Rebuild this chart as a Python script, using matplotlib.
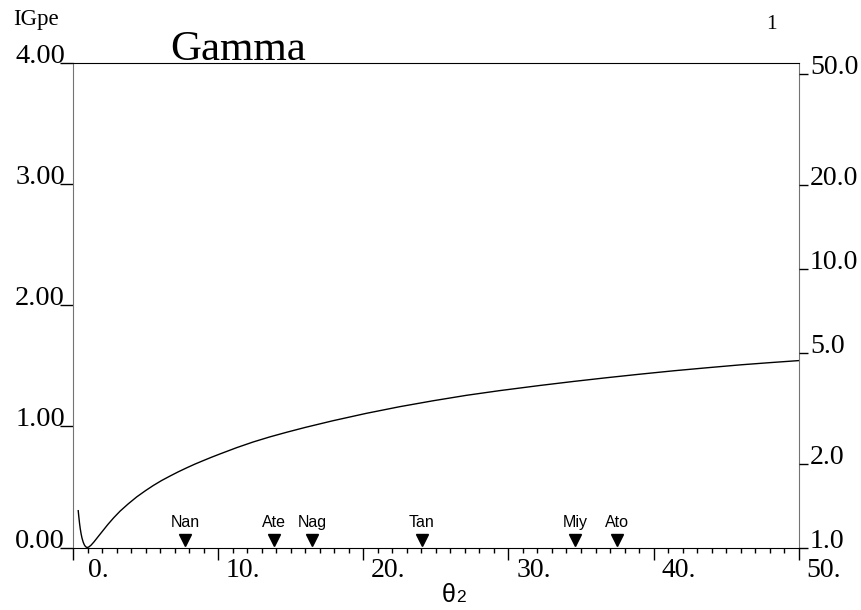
import matplotlib
matplotlib.use("Agg")
import matplotlib.pyplot as plt
from matplotlib.ticker import FixedLocator, MultipleLocator, NullLocator
from matplotlib.transforms import ScaledTranslation
import numpy as np

plt.rcParams["font.family"] = "Liberation Serif"

# curve (theta_2 vs IGpe)
theta = [0.36, 0.40, 0.45, 0.50, 0.56, 0.62, 0.70, 0.78, 0.86, 0.93, 1.0,
         1.1, 1.25, 1.45, 1.7, 2.0, 2.4, 2.8, 3.24, 3.8, 4.39, 5.0, 5.53,
         6.1, 6.68, 7.25, 7.83, 8.4, 8.98, 9.55, 10.13, 11.28, 12.42, 13.57,
         14.72, 16.0, 17.9, 20.2, 22.5, 24.8, 27.1, 29.4, 32.2, 34.5, 36.8,
         39.0, 41.4, 43.7, 46.0, 48.0, 50.0]
igpe = [0.304, 0.255, 0.20, 0.155, 0.112, 0.078, 0.045, 0.022, 0.008, 0.002,
        0.0, 0.005, 0.02, 0.047, 0.085, 0.13, 0.19, 0.245, 0.30, 0.36, 0.418,
        0.47, 0.512, 0.553, 0.59, 0.625, 0.658, 0.689, 0.718, 0.746, 0.773,
        0.825, 0.872, 0.914, 0.952, 0.992, 1.047, 1.108, 1.163, 1.212, 1.257,
        1.296, 1.339, 1.372, 1.403, 1.431, 1.46, 1.485, 1.509, 1.527, 1.544]

stations = ["Nan", "Ate", "Nag", "Tan", "Miy", "Ato"]
station_theta = [7.74, 13.87, 16.49, 24.02, 34.59, 37.46]

left_ticks = [0, 1, 2, 3, 4]
left_labels = ["0.00", "1.00", "2.00", "3.00", "4.00"]
right_ticks = [1, 2, 5, 10, 20, 50]
right_labels = ["1.0", "2.0", "5.0", "10.0", "20.0", "50.0"]
x_ticks = [0, 10, 20, 30, 40, 50]
x_labels = ["0.", "10.", "20.", "30.", "40.", "50."]

W, H = 861, 610
fig = plt.figure(figsize=(W / 100, H / 100), dpi=100)
ax = fig.add_axes([73 / W, 1 - 547.5 / H, (798.7 - 73) / W, (547.5 - 63.3) / H])

ax.plot(theta, igpe, color="black", lw=1.0)
ax.plot(station_theta, [0.062] * len(station_theta), "v", color="black",
        ms=9.2, clip_on=False)
for name, x in zip(stations, station_theta):
    ax.text(x, 0.172, name, ha="center", va="baseline",
            family="Liberation Sans", fontsize=11.5)

ax.set_xlim(0, 50)
ax.set_ylim(0, 4)

# left axis
ax.set_yticks(left_ticks)
ax.set_yticklabels(left_labels)
ax.tick_params(axis="y", which="major", direction="out", length=9.4,
               width=1, pad=-3.6, labelsize=20.5)
for lab in ax.get_yticklabels():
    lab.set_verticalalignment("baseline")

# bottom axis
ax.set_xticks(x_ticks)
ax.set_xticklabels(x_labels)
ax.xaxis.set_minor_locator(MultipleLocator(1))
ax.tick_params(axis="x", which="major", direction="out", length=8.6,
               width=1, pad=-1, labelsize=20)
ax.tick_params(axis="x", which="minor", direction="out", length=3.6, width=1)
shift = ScaledTranslation(0.25, 0, fig.dpi_scale_trans)
for lab in ax.get_xticklabels():
    lab.set_transform(lab.get_transform() + shift)

for side in ("left", "right"):
    ax.spines[side].set_color("0.45")
for side in ("top", "bottom"):
    ax.spines[side].set_color("black")

# right axis: exp of the left one
ax2 = ax.twinx()
ax2.set_yscale("log")
ax2.set_ylim(1, np.exp(4))
ax2.yaxis.set_major_locator(FixedLocator(right_ticks))
ax2.yaxis.set_minor_locator(NullLocator())
ax2.set_yticklabels(right_labels)
ax2.tick_params(axis="y", which="major", direction="out", length=6.7,
                width=1, pad=1.4, labelsize=20)
for lab in ax2.get_yticklabels():
    lab.set_verticalalignment("baseline")
for s in ax2.spines.values():
    s.set_visible(False)

fig.text(170 / W, 1 - 60 / H, "Gamma", fontsize=31, va="baseline")
fig.text(13 / W, 1 - 25 / H, "IGpe", fontsize=16.5, va="baseline")
fig.text(771 / W, 1 - 29 / H, "1", fontsize=15.5, ha="center", va="baseline")
fig.text(442 / W, 1 - 602 / H, "\u03b8", family="Liberation Sans",
         fontsize=18, va="baseline")
fig.text(456 / W, 1 - 602 / H, "2", family="Liberation Sans",
         fontsize=12.5, va="baseline")

fig.savefig("out.png", dpi=100)
